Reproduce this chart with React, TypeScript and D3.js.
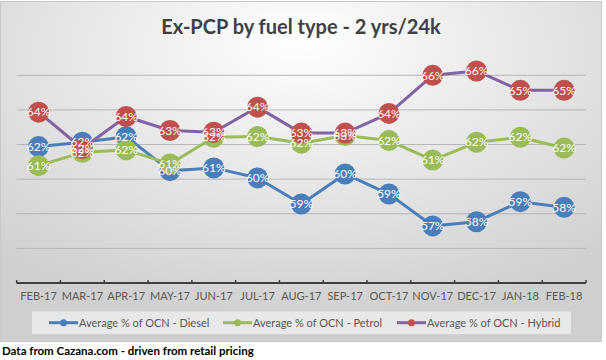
import React from "react";
import * as d3 from "d3";

const months = ["FEB-17","MAR-17","APR-17","MAY-17","JUN-17","JUL-17","AUG-17","SEP-17","OCT-17","NOV-17","DEC-17","JAN-18","FEB-18"];
const diesel = [61.88,62.13,62.45,60.49,60.65,60.07,58.56,60.3,59.14,57.3,57.54,58.7,58.37];
const petrol = [60.78,61.55,61.69,60.88,62.42,62.46,62.08,62.52,62.23,61.1,62.13,62.42,61.8];
const hybrid = [63.87,61.77,63.62,62.81,62.71,64.16,62.66,62.66,63.8,66.0,66.25,65.13,65.13];
const yTicks = [54,56,58,60,62,64,66];
const seriesNames = ["Average % of OCN - Diesel","Average % of OCN - Petrol","Average % of OCN - Hybrid"];

const FONT = "Lato, 'Open Sans', sans-serif";

export default function App() {
  const W = 606, H = 360;
  const x = d3.scaleBand().domain(months).range([16.7, 586]);
  const y = d3.scaleLinear().domain([54, 66]).range([283, 75.3]);
  const cx = (m: string) => (x(m) as number) + x.bandwidth() / 2;
  const line = d3.line<number>().x((_, i) => cx(months[i])).y(d => y(d));

  const series = [
    { name: seriesNames[0], data: diesel, line: "#4a7ebb", marker: "#4a7ebb" },
    { name: seriesNames[1], data: petrol, line: "#9bbb59", marker: "#9bbb59" },
    { name: seriesNames[2], data: hybrid, line: "#8064a2", marker: "#c0504d" },
  ];
  const legendX = [49, 223, 397];

  return (
    <svg width={W} height={H} style={{ position: "absolute", left: 0, top: 0 }} fontFamily={FONT}>
      <defs>
        <radialGradient id="bg" cx="50%" cy="20%" r="75%" fx="50%" fy="10%">
          <stop offset="0%" stopColor="#ffffff" />
          <stop offset="100%" stopColor="#cfcfcf" />
        </radialGradient>
      </defs>
      <rect x={0} y={0} width={W} height={H} fill="#ffffff" />
      <rect x={0.5} y={1.5} width={601} height={340} fill="url(#bg)" stroke="#c8c8c8" />
      <text x={301} y={34} textAnchor="middle" fontSize={20} fontWeight="bold" fill="#404040">Ex-PCP by fuel type - 2 yrs/24k</text>

      {yTicks.slice(1).map(t => (
        <line key={t} x1={16.7} x2={586} y1={y(t)} y2={y(t)} stroke="#b5b5b5" strokeWidth={1} />
      ))}
      <line x1={16.7} x2={586} y1={y(54)} y2={y(54)} stroke="#404040" strokeWidth={2} />
      {months.concat(["end"]).map((m, i) => {
        const xx = 16.7 + i * x.step();
        return <line key={m} x1={xx} x2={xx} y1={y(54) - 3} y2={y(54)} stroke="#404040" strokeWidth={1.5} />;
      })}
      {months.map(m => (
        <text key={m} x={cx(m)} y={300} textAnchor="middle" fontSize={11} fill="#595959">{m}</text>
      ))}

      {series.map(s => (
        <g key={s.name}>
          <path d={line(s.data) as string} fill="none" stroke={s.line} strokeWidth={3} strokeLinejoin="round" />
          {s.data.map((v, i) => (
            <circle key={i} cx={cx(months[i])} cy={y(v)} r={10.5} fill={s.marker} />
          ))}
        </g>
      ))}
      {series.map(s => (
        <g key={s.name + "l"}>
          {s.data.map((v, i) => (
            <text key={i} x={cx(months[i])} y={y(v) + 4.2} textAnchor="middle" fontSize={12} fill="#ffffff">{Math.round(v) + "%"}</text>
          ))}
        </g>
      ))}

      <rect x={32} y={311.5} width={539} height={22.5} fill="#eeeeee" opacity={0.8} />
      {series.map((s, i) => (
        <g key={s.name + "g"}>
          <line x1={legendX[i]} x2={legendX[i] + 29} y1={322.7} y2={322.7} stroke={s.line} strokeWidth={3} />
          <circle cx={legendX[i] + 14.5} cy={322.7} r={3.5} fill={s.marker} />
          <text x={legendX[i] + 30} y={326.5} fontSize={11} fill="#595959">{s.name}</text>
        </g>
      ))}

      <text x={2} y={355} fontSize={11.5} fontWeight="bold" fill="#000000">Data from Cazana.com - driven from retail pricing</text>
    </svg>
  );
}
